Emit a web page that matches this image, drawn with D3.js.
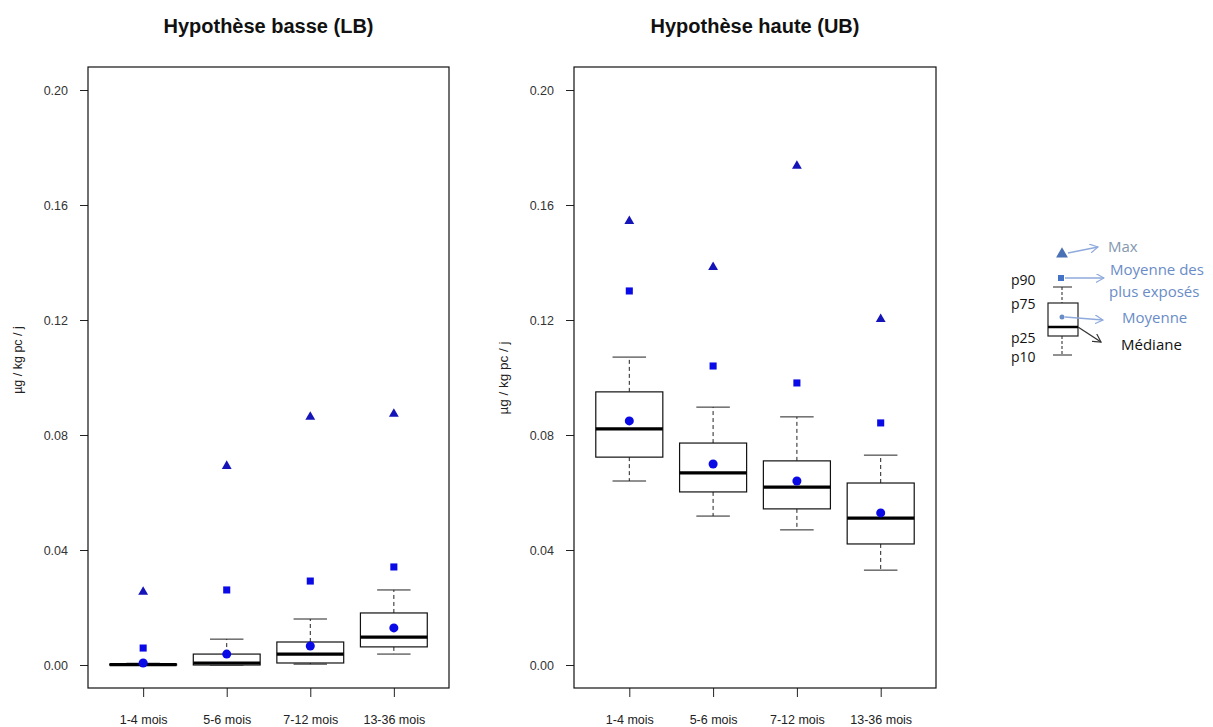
<!DOCTYPE html>
<html>
<head>
<meta charset="utf-8">
<script src="https://cdn.jsdelivr.net/npm/d3@7"></script>
<style>
    body { margin: 0; background: #fff; }
    svg { display: block; }
</style>
</head>
<body>
<div id="chart"></div>
<script>
// Age groups and y ticks
const categories = ['1-4 mois', '5-6 mois', '7-12 mois', '13-36 mois'];
const yTicks = [0, 0.04, 0.08, 0.12, 0.16, 0.20];

// Lower bound (LB) statistics
const lbP10 = [0, 0, 0.0003, 0.0038];
const lbP25 = [0, 0, 0.0007, 0.0063];
const lbMedian = [0.0001, 0.0007, 0.0038, 0.0097];
const lbP75 = [0.0003, 0.0038, 0.008, 0.0181];
const lbP90 = [0.0006, 0.009, 0.016, 0.0261];
const lbMean = [0.0007, 0.0038, 0.0066, 0.0129];
const lbMeanTop = [0.0059, 0.0261, 0.0292, 0.0341];
const lbMax = [0.0254, 0.0692, 0.0863, 0.0873];

// Upper bound (UB) statistics
const ubP10 = [0.064, 0.0518, 0.047, 0.033];
const ubP25 = [0.0723, 0.0602, 0.0543, 0.0421];
const ubMedian = [0.0821, 0.0668, 0.0619, 0.0511];
const ubP75 = [0.095, 0.0772, 0.071, 0.0633];
const ubP90 = [0.1071, 0.0897, 0.0863, 0.073];
const ubMean = [0.0849, 0.0699, 0.064, 0.0529];
const ubMeanTop = [0.1301, 0.104, 0.0981, 0.0842];
const ubMax = [0.1544, 0.1384, 0.1736, 0.1203];

const W = 1213, H = 727;
const svg = d3.select('#chart').append('svg')
    .attr('width', W)
    .attr('height', H)
    .style('font-family', '"Liberation Sans", Arial, sans-serif');

svg.append('rect').attr('width', W).attr('height', H).attr('fill', '#fff');

const blue = '#0a0ae6';
const triBlue = '#1414b8';

function drawPanel(opts) {
    const left = opts.left, right = opts.right, top = 67, bottom = 688;

    const x = d3.scalePoint().domain(categories).range([left, right]).padding(0.66);
    const y = d3.scaleLinear().domain([-0.008, 0.208]).range([bottom, top]);
    const boxW = x.step() * 0.8;
    const capW = x.step() * 0.4;

    const rows = categories.map((c, i) => ({
        cat: c,
        p10: opts.p10[i], p25: opts.p25[i], med: opts.median[i],
        p75: opts.p75[i], p90: opts.p90[i],
        mean: opts.mean[i], meanTop: opts.meanTop[i], max: opts.max[i]
    }));

    const g = svg.append('g');

    // title
    g.append('text')
        .attr('x', (left + right) / 2)
        .attr('y', 33)
        .attr('text-anchor', 'middle')
        .style('font-size', '20px')
        .style('font-weight', 'bold')
        .attr('fill', '#111')
        .text(opts.title);

    // y axis
    const yAxis = g.append('g')
        .attr('transform', `translate(${left},0)`)
        .call(d3.axisLeft(y).tickValues(yTicks).tickSize(8).tickPadding(12)
            .tickFormat(d3.format('.2f')));
    yAxis.select('.domain').remove();
    yAxis.selectAll('line').attr('stroke', '#222');
    yAxis.selectAll('text')
        .style('font-size', '12.5px')
        .style('font-family', '"Liberation Sans", Arial, sans-serif')
        .attr('fill', '#333');

    // x axis
    const xAxis = g.append('g')
        .attr('transform', `translate(0,${bottom})`)
        .call(d3.axisBottom(x).tickSize(9).tickPadding(18));
    xAxis.select('.domain').remove();
    xAxis.selectAll('line').attr('stroke', '#222');
    xAxis.selectAll('text')
        .style('font-size', '12.5px')
        .style('font-family', '"Liberation Sans", Arial, sans-serif')
        .attr('fill', '#222');

    // y label
    g.append('text')
        .attr('transform', `translate(${left - 66},${opts.labelY}) rotate(-90)`)
        .attr('text-anchor', 'middle')
        .style('font-size', opts.labelSize)
        .attr('fill', '#222')
        .text('µg / kg pc / j');

    // frame
    g.append('rect')
        .attr('x', left).attr('y', top)
        .attr('width', right - left).attr('height', bottom - top)
        .attr('fill', 'none').attr('stroke', '#111').attr('stroke-width', 1.2);

    const boxes = g.selectAll('.box').data(rows).enter().append('g').attr('class', 'box');

    // whiskers
    boxes.append('line')
        .attr('x1', d => x(d.cat)).attr('x2', d => x(d.cat))
        .attr('y1', d => y(d.p75)).attr('y2', d => y(d.p90))
        .attr('stroke', '#222').attr('stroke-dasharray', '4,3');
    boxes.append('line')
        .attr('x1', d => x(d.cat)).attr('x2', d => x(d.cat))
        .attr('y1', d => y(d.p25)).attr('y2', d => y(d.p10))
        .attr('stroke', '#222').attr('stroke-dasharray', '4,3');
    boxes.append('line')
        .attr('x1', d => x(d.cat) - capW / 2).attr('x2', d => x(d.cat) + capW / 2)
        .attr('y1', d => y(d.p90)).attr('y2', d => y(d.p90))
        .attr('stroke', '#222');
    boxes.append('line')
        .attr('x1', d => x(d.cat) - capW / 2).attr('x2', d => x(d.cat) + capW / 2)
        .attr('y1', d => y(d.p10)).attr('y2', d => y(d.p10))
        .attr('stroke', '#222');

    // box
    boxes.append('rect')
        .attr('x', d => x(d.cat) - boxW / 2)
        .attr('y', d => y(d.p75))
        .attr('width', boxW)
        .attr('height', d => y(d.p25) - y(d.p75))
        .attr('fill', '#fff').attr('stroke', '#111').attr('stroke-width', 1.2);

    // median
    boxes.append('line')
        .attr('x1', d => x(d.cat) - boxW / 2).attr('x2', d => x(d.cat) + boxW / 2)
        .attr('y1', d => y(d.med)).attr('y2', d => y(d.med))
        .attr('stroke', '#000').attr('stroke-width', 3.2);

    // markers
    boxes.append('path')
        .attr('d', d3.symbol(d3.symbolTriangle, 42))
        .attr('transform', d => `translate(${x(d.cat)},${y(d.max)})`)
        .attr('fill', triBlue);
    boxes.append('path')
        .attr('d', d3.symbol(d3.symbolSquare, 50))
        .attr('transform', d => `translate(${x(d.cat)},${y(d.meanTop)})`)
        .attr('fill', blue);
    boxes.append('path')
        .attr('d', d3.symbol(d3.symbolCircle, 64))
        .attr('transform', d => `translate(${x(d.cat)},${y(d.mean)})`)
        .attr('fill', blue);
}

drawPanel({
    title: 'Hypothèse basse (LB)', left: 88, right: 449, labelY: 360, labelSize: '12.5px',
    p10: lbP10, p25: lbP25, median: lbMedian, p75: lbP75, p90: lbP90,
    mean: lbMean, meanTop: lbMeanTop, max: lbMax
});

drawPanel({
    title: 'Hypothèse haute (UB)', left: 574, right: 936, labelY: 378, labelSize: '13.5px',
    p10: ubP10, p25: ubP25, median: ubMedian, p75: ubP75, p90: ubP90,
    mean: ubMean, meanTop: ubMeanTop, max: ubMax
});

// Legend (explanatory drawing)
const lg = svg.append('g').style('font-family', '"Open Sans", "Noto Sans", sans-serif');
const arrowLight = '#8faadc';

const defs = svg.append('defs');
[['head-light', arrowLight], ['head-dark', '#333']].forEach(([id, col]) => {
    defs.append('marker')
        .attr('id', id)
        .attr('viewBox', '0 0 10 10')
        .attr('refX', 9).attr('refY', 5)
        .attr('markerWidth', 9).attr('markerHeight', 9)
        .attr('markerUnits', 'userSpaceOnUse')
        .attr('orient', 'auto')
        .append('path')
        .attr('d', 'M0,0 L9,5 L0,10')
        .attr('fill', 'none')
        .attr('stroke', col)
        .attr('stroke-width', 1.3);
});

function arrow(x1, y1, x2, y2, head, col) {
    lg.append('line')
        .attr('x1', x1).attr('y1', y1).attr('x2', x2).attr('y2', y2)
        .attr('stroke', col).attr('stroke-width', 1.3)
        .attr('marker-end', `url(#${head})`);
}

// max triangle
lg.append('path')
    .attr('d', d3.symbol(d3.symbolTriangle, 60))
    .attr('transform', 'translate(1062,254)')
    .attr('fill', '#4a70b5');
arrow(1068, 253, 1098, 247, 'head-light', arrowLight);

// mean of most exposed
lg.append('rect').attr('x', 1058).attr('y', 275).attr('width', 6).attr('height', 6).attr('fill', '#4472c4');
arrow(1065, 278, 1104, 278, 'head-light', arrowLight);

// mini box
lg.append('line').attr('x1', 1053).attr('x2', 1072).attr('y1', 287).attr('y2', 287).attr('stroke', '#222');
lg.append('line').attr('x1', 1062).attr('x2', 1062).attr('y1', 287).attr('y2', 303)
    .attr('stroke', '#222').attr('stroke-dasharray', '3,2');
lg.append('rect').attr('x', 1048).attr('y', 303).attr('width', 30).attr('height', 33)
    .attr('fill', '#fff').attr('stroke', '#222').attr('stroke-width', 1.2);
lg.append('line').attr('x1', 1048).attr('x2', 1078).attr('y1', 327).attr('y2', 327)
    .attr('stroke', '#000').attr('stroke-width', 2.5);
lg.append('line').attr('x1', 1062).attr('x2', 1062).attr('y1', 336).attr('y2', 355)
    .attr('stroke', '#222').attr('stroke-dasharray', '3,2');
lg.append('line').attr('x1', 1053).attr('x2', 1072).attr('y1', 355).attr('y2', 355).attr('stroke', '#222');
lg.append('circle').attr('cx', 1062).attr('cy', 317).attr('r', 2.5).attr('fill', '#6a8cc6');
arrow(1065, 317, 1103, 320, 'head-light', arrowLight);
arrow(1078, 327, 1101, 342, 'head-dark', '#333');

const legendTexts = [
    { t: 'Max', x: 1108, y: 252, c: '#8497b0', s: 15 },
    { t: 'Moyenne des', x: 1110, y: 275, c: '#6a8cc6', s: 15 },
    { t: 'plus exposés', x: 1109, y: 297, c: '#6a8cc6', s: 15 },
    { t: 'Moyenne', x: 1122, y: 323, c: '#6a8cc6', s: 15 },
    { t: 'Médiane', x: 1121, y: 350, c: '#111', s: 15 },
    { t: 'p90', x: 1011, y: 285, c: '#111', s: 14 },
    { t: 'p75', x: 1011, y: 309, c: '#111', s: 14 },
    { t: 'p25', x: 1011, y: 343, c: '#111', s: 14 },
    { t: 'p10', x: 1011, y: 362, c: '#111', s: 14 }
];
lg.selectAll('.lt').data(legendTexts).enter().append('text')
    .attr('class', 'lt')
    .attr('x', d => d.x).attr('y', d => d.y)
    .attr('fill', d => d.c)
    .style('font-size', d => d.s + 'px')
    .text(d => d.t);
</script>
</body>
</html>
